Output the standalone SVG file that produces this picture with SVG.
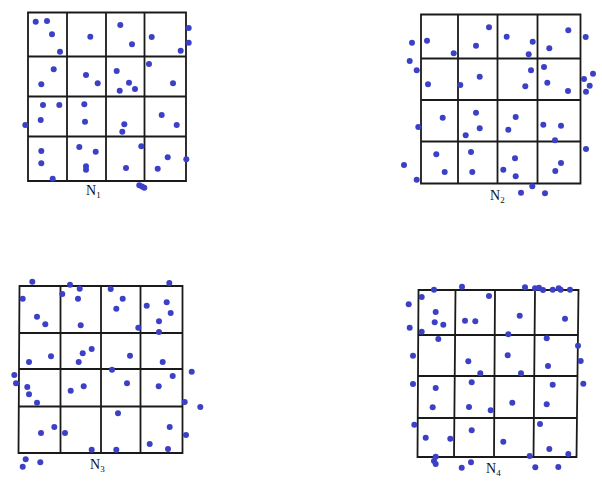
<svg xmlns="http://www.w3.org/2000/svg" width="602" height="484" viewBox="0 0 602 484">
<style>
.g{fill:none;stroke:#1a1a1a;stroke-width:1.8}
.d{fill:#3b40c6}
.t{font-family:"Liberation Serif",serif;font-size:14px;fill:#111}
.s{font-size:9px}
</style>
<defs><circle id="p" r="3"/></defs>
<rect width="602" height="484" fill="#fff"/>
<g id="N1">
<path class="g" d="M28,12.5H186V181H28Z M67,12.5V181 M106,12.5V181 M144.5,12.5V181 M28,56.5H186 M28,96.5H186 M28,136.5H186"/>
<g class="d">
<use href="#p" x="35.7" y="21.7"/><use href="#p" x="47" y="21"/><use href="#p" x="52" y="34.3"/><use href="#p" x="60" y="51.7"/>
<use href="#p" x="90.3" y="36.7"/><use href="#p" x="120.3" y="25"/><use href="#p" x="132" y="44.3"/><use href="#p" x="151.7" y="37"/>
<use href="#p" x="180.7" y="50.7"/><use href="#p" x="188.7" y="28"/><use href="#p" x="188.7" y="42.7"/><use href="#p" x="53.7" y="69.3"/>
<use href="#p" x="41.3" y="84.3"/><use href="#p" x="86" y="75"/><use href="#p" x="97.7" y="83.3"/><use href="#p" x="116.7" y="71"/>
<use href="#p" x="129" y="82.7"/><use href="#p" x="119.7" y="90.7"/><use href="#p" x="135" y="89"/><use href="#p" x="149" y="64"/>
<use href="#p" x="173" y="83.3"/><use href="#p" x="43" y="105"/><use href="#p" x="59.3" y="105"/><use href="#p" x="40.7" y="120"/>
<use href="#p" x="25.3" y="125"/><use href="#p" x="84.3" y="104.3"/><use href="#p" x="85" y="121.7"/><use href="#p" x="124.3" y="124.3"/>
<use href="#p" x="122.3" y="131.7"/><use href="#p" x="161.7" y="115"/><use href="#p" x="176.7" y="125"/><use href="#p" x="41.3" y="151"/>
<use href="#p" x="41.3" y="163.3"/><use href="#p" x="52.7" y="178.7"/><use href="#p" x="79.3" y="147"/><use href="#p" x="95.7" y="151.7"/>
<use href="#p" x="86" y="166.3"/><use href="#p" x="86" y="169.7"/><use href="#p" x="141.3" y="146.3"/><use href="#p" x="126" y="168"/>
<use href="#p" x="167.7" y="157.3"/><use href="#p" x="157.7" y="168.7"/><use href="#p" x="186.3" y="159.3"/><use href="#p" x="139.3" y="185.3"/>
<use href="#p" x="142" y="186.5"/><use href="#p" x="144.3" y="187.7"/>
</g>
<text class="t" x="86" y="195">N<tspan class="s" dy="3">1</tspan></text>
</g>
<g id="N2">
<path class="g" d="M421,14.5H580.5V183.5H421Z M458,14.5V183.5 M497.5,14.5V183.5 M537.5,14.5V183.5 M421,58.5H580.5 M421,100H580.5 M421,141.5H580.5"/>
<g class="d">
<use href="#p" x="412" y="42.7"/><use href="#p" x="427" y="40.7"/><use href="#p" x="453.7" y="53.3"/><use href="#p" x="409.7" y="61"/>
<use href="#p" x="416.7" y="70.3"/><use href="#p" x="476" y="45.7"/><use href="#p" x="489" y="27.3"/><use href="#p" x="506.7" y="36.7"/>
<use href="#p" x="532.7" y="41.7"/><use href="#p" x="528.7" y="54.3"/><use href="#p" x="549.3" y="48.3"/><use href="#p" x="568.3" y="30.3"/>
<use href="#p" x="585.7" y="37"/><use href="#p" x="428" y="84.3"/><use href="#p" x="460.3" y="85"/><use href="#p" x="479.7" y="76.7"/>
<use href="#p" x="531" y="70.3"/><use href="#p" x="525.3" y="86.3"/><use href="#p" x="544" y="67"/><use href="#p" x="547.3" y="82.7"/>
<use href="#p" x="568" y="91"/><use href="#p" x="584" y="79"/><use href="#p" x="593" y="73.7"/><use href="#p" x="589.7" y="85.7"/>
<use href="#p" x="586" y="91.7"/><use href="#p" x="442.7" y="117.7"/><use href="#p" x="418.3" y="127"/><use href="#p" x="476" y="112.7"/>
<use href="#p" x="479.7" y="128.3"/><use href="#p" x="465.7" y="135.3"/><use href="#p" x="515.7" y="117"/><use href="#p" x="508.3" y="129.7"/>
<use href="#p" x="543.3" y="124.7"/><use href="#p" x="561" y="125.7"/><use href="#p" x="555" y="140.3"/><use href="#p" x="586" y="149"/>
<use href="#p" x="436.3" y="154.3"/><use href="#p" x="444.7" y="172"/><use href="#p" x="404" y="165"/><use href="#p" x="416.7" y="179.7"/>
<use href="#p" x="471" y="152"/><use href="#p" x="472.3" y="172"/><use href="#p" x="515" y="158.3"/><use href="#p" x="503.3" y="169.7"/>
<use href="#p" x="515.7" y="176.3"/><use href="#p" x="561" y="163"/><use href="#p" x="555.3" y="171"/><use href="#p" x="532.3" y="186.3"/>
<use href="#p" x="521" y="192.7"/><use href="#p" x="545" y="193.3"/>
</g>
<text class="t" x="490" y="200">N<tspan class="s" dy="3">2</tspan></text>
</g>
<g id="N3">
<path class="g" d="M19.5,286H182.5V453H18.5Z M60.5,286V453 M101,286V453 M140.5,286V453 M19.5,333H182.5 M19,369H182.5 M19,406.5H182.5"/>
<g class="d">
<use href="#p" x="32.3" y="281.7"/><use href="#p" x="22.7" y="298.7"/><use href="#p" x="70" y="284.7"/><use href="#p" x="79.7" y="288.7"/>
<use href="#p" x="62.3" y="294"/><use href="#p" x="78" y="298.7"/><use href="#p" x="37" y="316.7"/><use href="#p" x="45.3" y="324.3"/>
<use href="#p" x="80.7" y="325.3"/><use href="#p" x="110.7" y="289"/><use href="#p" x="122.7" y="298.7"/><use href="#p" x="116.3" y="308.7"/>
<use href="#p" x="169.3" y="283"/><use href="#p" x="146.7" y="305.7"/><use href="#p" x="166.7" y="302.3"/><use href="#p" x="170.7" y="313"/>
<use href="#p" x="159" y="321.3"/><use href="#p" x="138.3" y="327.7"/><use href="#p" x="159" y="332"/><use href="#p" x="29" y="362"/>
<use href="#p" x="51" y="356.3"/><use href="#p" x="91.7" y="349"/><use href="#p" x="82.7" y="353.3"/><use href="#p" x="78.7" y="362"/>
<use href="#p" x="130" y="355.7"/><use href="#p" x="162.7" y="362"/><use href="#p" x="14.3" y="375"/><use href="#p" x="16" y="383.3"/>
<use href="#p" x="27.3" y="387"/><use href="#p" x="29" y="394.3"/><use href="#p" x="37" y="402.7"/><use href="#p" x="70.7" y="390.7"/>
<use href="#p" x="83.7" y="386.3"/><use href="#p" x="112" y="369.7"/><use href="#p" x="127" y="383.3"/><use href="#p" x="172.7" y="376"/>
<use href="#p" x="191.7" y="371.7"/><use href="#p" x="158.7" y="386.3"/><use href="#p" x="184.7" y="402"/><use href="#p" x="200.3" y="407"/>
<use href="#p" x="118" y="413.3"/><use href="#p" x="54.3" y="427"/><use href="#p" x="41" y="433"/><use href="#p" x="65" y="433"/>
<use href="#p" x="91.7" y="449.7"/><use href="#p" x="116.3" y="449.7"/><use href="#p" x="169.7" y="427"/><use href="#p" x="186" y="435"/>
<use href="#p" x="149.7" y="444"/><use href="#p" x="168" y="449"/><use href="#p" x="25.7" y="459.3"/><use href="#p" x="22.7" y="466.7"/>
<use href="#p" x="40.3" y="462.3"/>
</g>
<text class="t" x="90" y="469">N<tspan class="s" dy="3">3</tspan></text>
</g>
<g id="N4">
<path class="g" d="M418.5,290H578.5L576.5,457H417.5Z M455.5,290L454,457 M495,290L494,457 M535,290L533.5,457 M418,335H578 M418,376H577.5 M417.5,418H577"/>
<g class="d">
<use href="#p" x="434" y="289.7"/><use href="#p" x="462" y="286.7"/><use href="#p" x="421.7" y="297"/><use href="#p" x="408.7" y="304.3"/>
<use href="#p" x="435.7" y="312"/><use href="#p" x="434.7" y="322.3"/><use href="#p" x="443.3" y="324.7"/><use href="#p" x="409.7" y="327.7"/>
<use href="#p" x="421.7" y="331.7"/><use href="#p" x="465" y="320.7"/><use href="#p" x="475.3" y="321.3"/><use href="#p" x="489" y="296"/>
<use href="#p" x="519.7" y="315.7"/><use href="#p" x="525" y="287.3"/><use href="#p" x="535" y="288.3"/><use href="#p" x="539" y="287.7"/>
<use href="#p" x="543" y="290"/><use href="#p" x="552.7" y="289.7"/><use href="#p" x="558.7" y="288.3"/><use href="#p" x="560.7" y="289.7"/>
<use href="#p" x="570" y="289.7"/><use href="#p" x="565" y="318.7"/><use href="#p" x="438.3" y="339"/><use href="#p" x="413" y="355.7"/>
<use href="#p" x="468.3" y="361.3"/><use href="#p" x="480.3" y="373.3"/><use href="#p" x="508.3" y="334.3"/><use href="#p" x="507.7" y="355.3"/>
<use href="#p" x="521" y="373.3"/><use href="#p" x="546.7" y="338.3"/><use href="#p" x="548" y="366"/><use href="#p" x="578" y="345.7"/>
<use href="#p" x="580.7" y="361"/><use href="#p" x="583.3" y="383.7"/><use href="#p" x="413" y="384"/><use href="#p" x="435.7" y="388"/>
<use href="#p" x="432.7" y="407.3"/><use href="#p" x="471.7" y="382.3"/><use href="#p" x="469" y="407"/><use href="#p" x="490.7" y="410.3"/>
<use href="#p" x="512.3" y="402.7"/><use href="#p" x="552.7" y="384.7"/><use href="#p" x="546.7" y="404.3"/><use href="#p" x="414.3" y="424.7"/>
<use href="#p" x="425.7" y="437.7"/><use href="#p" x="450.3" y="438.7"/><use href="#p" x="471.7" y="430.3"/><use href="#p" x="503.3" y="441.7"/>
<use href="#p" x="540" y="424"/><use href="#p" x="549.3" y="449"/><use href="#p" x="568.3" y="454"/><use href="#p" x="529.7" y="456"/>
<use href="#p" x="435.7" y="456.7"/><use href="#p" x="434" y="461"/><use href="#p" x="435.7" y="464"/><use href="#p" x="461.7" y="467.7"/>
<use href="#p" x="471" y="462.3"/><use href="#p" x="535.3" y="467.3"/><use href="#p" x="558.3" y="467"/>
</g>
<text class="t" x="486" y="473">N<tspan class="s" dy="3">4</tspan></text>
</g>
</svg>
